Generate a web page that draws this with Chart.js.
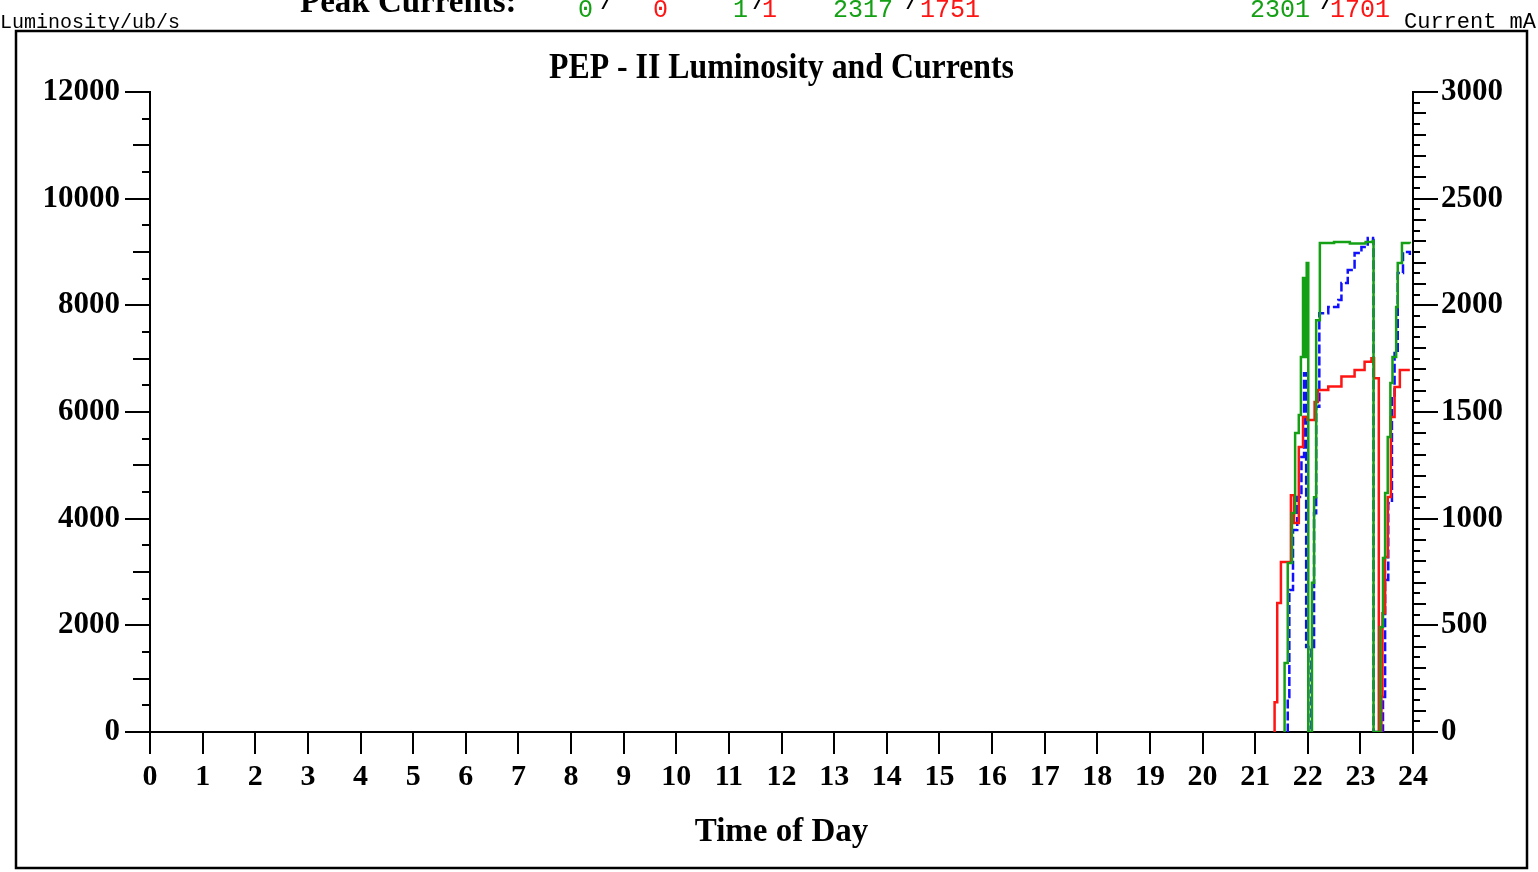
<!DOCTYPE html>
<html>
<head>
<meta charset="utf-8">
<script src="https://cdn.jsdelivr.net/npm/chart.js@4/dist/chart.umd.min.js"></script>
<style>
  html, body { margin: 0; padding: 0; background: #fff; }
  #wrap { width: 1538px; height: 872px; position: relative; }
</style>
</head>
<body>
<div id="wrap"><canvas id="pepChart"></canvas></div>
<script>
// hours of day and values
const herHours   = [21.55, 21.56, 21.62, 21.70, 21.76, 21.83, 21.87, 21.91, 21.95, 21.98, 22.01, 22.08, 22.12, 22.16, 22.23, 22.50, 22.80, 23.10, 23.24, 23.25, 23.38, 23.43, 23.47, 23.52, 23.57, 23.61, 23.68, 23.71, 23.79, 23.94];
const herCurrent = [0, 323, 792, 1027, 1402, 1486, 1758, 2128, 1758, 2198, 0, 700, 1100, 1930, 2292, 2297, 2290, 2297, 2301, 0, 492, 816, 1120, 1383, 1636, 1758, 1992, 2198, 2292, 2290];

const lerHours   = [21.36, 21.37, 21.42, 21.49, 21.68, 21.74, 21.83, 21.91, 21.99, 22.13, 22.19, 22.39, 22.64, 22.89, 23.08, 23.21, 23.26, 23.35, 23.40, 23.42, 23.47, 23.52, 23.58, 23.65, 23.75, 23.94];
const lerCurrent = [0, 140, 605, 797, 1110, 980, 1336, 1477, 1462, 1547, 1603, 1619, 1666, 1697, 1736, 1752, 1658, 0, 166, 557, 820, 1102, 1477, 1617, 1697, 1697];

const lumHours = [21.61, 21.62, 21.65, 21.72, 21.80, 21.88, 21.93, 21.97, 22.01, 22.07, 22.12, 22.16, 22.22, 22.39, 22.58, 22.64, 22.76, 22.89, 23.02, 23.14, 23.24, 23.25, 23.43, 23.47, 23.53, 23.60, 23.65, 23.71, 23.81, 23.94];
const lumValues = [0, 656, 2662, 3787, 4406, 5156, 6725, 1594, 0, 1594, 4100, 6100, 7850, 7969, 8100, 8419, 8663, 8981, 9094, 9263, 9225, 0, 656, 2850, 4294, 6281, 7106, 8606, 9000, 8944];

// axis ticks
const hourTicks = [0, 1, 2, 3, 4, 5, 6, 7, 8, 9, 10, 11, 12, 13, 14, 15, 16, 17, 18, 19, 20, 21, 22, 23, 24];
const hourLabels = ['0', '1', '2', '3', '4', '5', '6', '7', '8', '9', '10', '11', '12', '13', '14', '15', '16', '17', '18', '19', '20', '21', '22', '23', '24'];
const lumTicks = [0, 2000, 4000, 6000, 8000, 10000, 12000];
const lumLabels = ['0', '2000', '4000', '6000', '8000', '10000', '12000'];
const currentTicks = [0, 500, 1000, 1500, 2000, 2500, 3000];
const currentLabels = ['0', '500', '1000', '1500', '2000', '2500', '3000'];

// header text
const peakHer = ['0', '1', '2317', '2301'];
const peakLer = ['0', '1', '1751', '1701'];

const GREEN = '#14a014';
const RED = '#ff1414';
const BLUE = '#1010ff';
const SERIF = '"Liberation Serif", "DejaVu Serif", serif';
const MONO = '"Liberation Mono", "DejaVu Sans Mono", monospace';

function toPoints(xs, ys) {
    return xs.map((x, i) => ({ x: x, y: ys[i] }));
}

// frame, header texts, title and small ticks
const decorPlugin = {
    id: 'decor',
    beforeDraw(chart) {
        const c = chart.ctx;
        c.save();
        c.fillStyle = '#fff';
        c.fillRect(0, 0, chart.width, chart.height);
        c.restore();
    },
    afterDraw(chart) {
        const c = chart.ctx;
        const area = chart.chartArea;
        c.save();

        // outer frame
        c.strokeStyle = '#000';
        c.lineWidth = 2.5;
        c.strokeRect(16, 31, 1511, 837);

        // header
        c.fillStyle = '#000';
        c.textBaseline = 'alphabetic';
        c.font = '20px ' + MONO;
        c.textAlign = 'left';
        c.fillText('Luminosity/ub/s', 0, 28);
        c.font = '22px ' + MONO;
        c.textAlign = 'right';
        c.fillText('Current mA', 1536, 28);

        c.textAlign = 'left';
        c.font = 'bold 33px ' + SERIF;
        c.fillText('Peak Currents:', 300, 12);

        const herX = [578, 733, 833, 1250];
        const slashX = [600, 752, 905, 1320];
        const lerX = [653, 762, 920, 1330];
        c.font = '25px ' + MONO;
        for (let i = 0; i < peakHer.length; i++) {
            c.fillStyle = GREEN;
            c.fillText(peakHer[i], herX[i], 17);
            c.fillStyle = '#000';
            c.fillText('/', slashX[i], 9);
            c.fillStyle = RED;
            c.fillText(peakLer[i], lerX[i], 17);
        }

        // title
        c.fillStyle = '#000';
        c.font = 'bold 36px ' + SERIF;
        const title = 'PEP - II Luminosity and Currents';
        const w = c.measureText(title).width;
        const cx = (area.left + area.right) / 2;
        c.save();
        c.translate(cx, 78);
        c.scale(465 / w, 1);
        c.textAlign = 'center';
        c.fillText(title, 0, 0);
        c.restore();

        // minor ticks on the left axis
        const yl = chart.scales.y;
        c.strokeStyle = '#000';
        c.lineWidth = 2;
        for (let v = 500; v < 12000; v += 500) {
            if (v % 2000 === 0) continue;
            const len = v % 1000 === 0 ? 17 : 8;
            const py = Math.round(yl.getPixelForValue(v));
            c.beginPath();
            c.moveTo(area.left - len, py);
            c.lineTo(area.left, py);
            c.stroke();
        }
        // minor ticks on the right axis
        const yr = chart.scales.y1;
        for (let v = 50; v < 3000; v += 50) {
            if (v % 500 === 0) continue;
            const len = v % 100 === 0 ? 13 : 7;
            const py = Math.round(yr.getPixelForValue(v));
            c.beginPath();
            c.moveTo(area.right, py);
            c.lineTo(area.right + len, py);
            c.stroke();
        }
        c.restore();
    }
};

const ctx = document.getElementById('pepChart');

const chart = new Chart(ctx, {
    type: 'line',
    data: {
        datasets: [
            {
                label: 'HER current',
                data: toPoints(herHours, herCurrent),
                yAxisID: 'y1',
                borderColor: GREEN,
                borderWidth: 2.5,
                stepped: true,
                pointRadius: 0,
                fill: false
            },
            {
                label: 'LER current',
                data: toPoints(lerHours, lerCurrent),
                yAxisID: 'y1',
                borderColor: RED,
                borderWidth: 2.5,
                stepped: true,
                pointRadius: 0,
                fill: false
            },
            {
                label: 'Luminosity',
                data: toPoints(lumHours, lumValues),
                yAxisID: 'y',
                borderColor: BLUE,
                borderWidth: 2.5,
                borderDash: [9, 3],
                stepped: true,
                pointRadius: 0,
                fill: false
            }
        ]
    },
    options: {
        responsive: true,
        maintainAspectRatio: false,
        animation: false,
        events: [],
        layout: { padding: { top: 92, bottom: 20, left: 0, right: 0 } },
        plugins: {
            legend: { display: false },
            title: { display: false },
            tooltip: { enabled: false }
        },
        scales: {
            x: {
                type: 'linear',
                position: 'bottom',
                min: 0,
                max: 24,
                afterBuildTicks: s => { s.ticks = hourTicks.map(v => ({ value: v })); },
                afterFit: s => { s.height = 120; },
                ticks: {
                    callback: (v, i) => hourLabels[i],
                    color: '#000',
                    font: { family: SERIF, size: 30, weight: 'bold' },
                    padding: 5,
                    autoSkip: false,
                    maxRotation: 0
                },
                grid: { drawOnChartArea: false, tickLength: 22, color: '#000', lineWidth: 2 },
                border: { color: '#000', width: 2 },
                title: {
                    display: true,
                    text: 'Time of Day',
                    color: '#000',
                    font: { family: SERIF, size: 33, weight: 'bold' },
                    padding: { top: 0, bottom: 0 }
                }
            },
            y: {
                position: 'left',
                min: 0,
                max: 12000,
                afterBuildTicks: s => { s.ticks = lumTicks.map(v => ({ value: v })); },
                afterFit: s => { s.width = 150; },
                ticks: {
                    callback: (v, i) => lumLabels[i],
                    color: '#000',
                    font: { family: SERIF, size: 31, weight: 'bold' },
                    padding: 5
                },
                grid: { drawOnChartArea: false, tickLength: 25, color: '#000', lineWidth: 2 },
                border: { color: '#000', width: 2 }
            },
            y1: {
                position: 'right',
                min: 0,
                max: 3000,
                afterBuildTicks: s => { s.ticks = currentTicks.map(v => ({ value: v })); },
                afterFit: s => { s.width = 125; },
                ticks: {
                    callback: (v, i) => currentLabels[i],
                    color: '#000',
                    font: { family: SERIF, size: 31, weight: 'bold' },
                    padding: 3
                },
                grid: { drawOnChartArea: false, tickLength: 25, color: '#000', lineWidth: 2 },
                border: { color: '#000', width: 2 }
            }
        }
    },
    plugins: [decorPlugin]
});
</script>
</body>
</html>
